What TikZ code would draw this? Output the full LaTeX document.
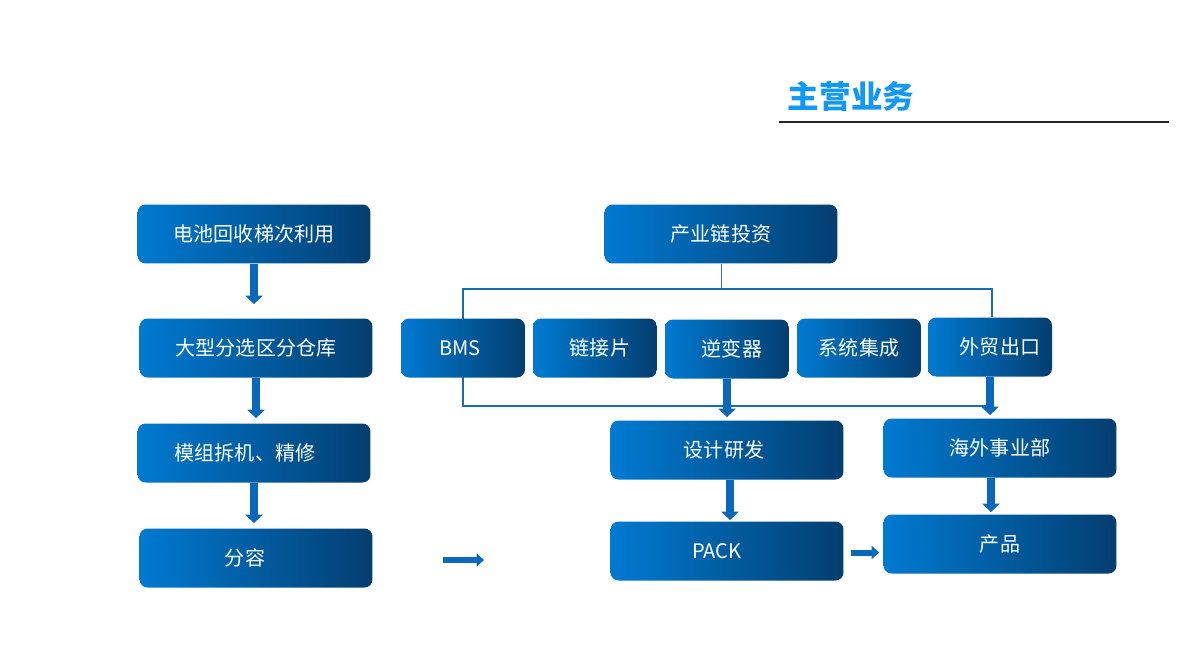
\documentclass[tikz,border=0pt]{standalone}
\usepackage{fontspec}
\setmainfont{Noto Sans CJK SC}
\usetikzlibrary{arrows.meta,backgrounds}
\definecolor{boxL}{RGB}{0,122,210}
\definecolor{boxR}{RGB}{3,62,112}
\definecolor{flowblue}{RGB}{10,104,188}
\definecolor{busblue}{RGB}{22,108,186}
\definecolor{titleblue}{RGB}{20,152,245}
% move a label sideways inside its box
\newcommand{\nudge}[2]{\hspace*{#1}#2\hspace*{-#1}}

\begin{document}
\begin{tikzpicture}[
    x=0.02cm, y=-0.02cm,
    font=\fontsize{11.4}{13}\selectfont,
    wide/.style={rounded corners=1.6mm, left color=boxL, right color=boxR,
                 text=white, minimum width=4.66cm, minimum height=1.18cm, inner sep=0pt},
    narrow/.style={wide, minimum width=2.48cm},
    flow/.style={-{Triangle[width=3.4mm,length=1.7mm]}, line width=1.6mm, draw=flowblue},
    flowsmall/.style={-{Triangle[width=2.6mm,length=1.5mm]}, line width=1.2mm, draw=flowblue},
    bus/.style={draw=busblue, line width=0.3mm},
    title/.style={font=\fontsize{18}{20}\selectfont\bfseries, text=titleblue},
]
\useasboundingbox (0,0) rectangle (1200,646);

% --- Heading ---
\node[title] (heading) at (851,96) {主营业务};
\coordinate (ruleL) at (779,122);
\coordinate (ruleR) at (1169,122);
\draw[line width=0.25mm, black!85] (ruleL) -- (ruleR);

% --- Recycling column (left) ---
\node[wide] (battery)   at (254,234) {电池回收梯次利用};
\node[wide] (sorting)   at (256,348) {大型分选区分仓库};
\node[wide] (dismantle) at (254,453) {\nudge{-0.18cm}{模组拆机、精修}};
\node[wide] (capacity)  at (256,558) {\nudge{-0.22cm}{分容}};

\draw[flow, shorten >=2.8mm] (battery.south) -- (battery.south |- sorting.north);
\draw[flow, shorten >=1mm]   (sorting.south) -- (sorting.south |- dismantle.north);
\draw[flow, shorten >=1mm]   (dismantle.south) -- (dismantle.south |- capacity.north);

% lone arrow between the two halves
\coordinate (gapL) at (443,560);
\coordinate (gapR) at (484,560);
\draw[flowsmall] (gapL) -- (gapR);

% --- Industry chain (right) ---
\node[wide]   (invest)   at (721,234) {产业链投资};
\node[narrow] (bms)      at (463,348) {\nudge{-0.06cm}{BMS}};
\node[narrow] (tab)      at (595,348) {\nudge{0.1cm}{链接片}};
\node[narrow] (inverter) at (727,349) {\nudge{0.1cm}{逆变器}};
\node[narrow] (sysint)   at (859,348) {系统集成};
\node[narrow] (export)   at (990,347) {\nudge{0.2cm}{外贸出口}};
\node[wide]   (design)   at (727,450) {\nudge{-0.06cm}{设计研发}};
\node[wide]   (overseas) at (1000,448) {海外事业部};
\node[wide]   (pack)     at (727,551) {\nudge{-0.2cm}{PACK}};
\node[wide]   (product)  at (1000,544) {产品};

% bus behind the row of small boxes
\coordinate (busTL) at (463,289);
\coordinate (busTR) at (992,289);
\coordinate (busBL) at (463,406);
\coordinate (busBR) at (991,406);
\begin{scope}[on background layer]
  \draw[draw=busblue!70!gray, line width=0.2mm] (invest.south) -- (invest.south |- busTL);
  \draw[bus] (busBR) -- (busBL) -- (busTL) -- (busTR) -- (busTR |- export.north);
\end{scope}

\draw[flow, shorten >=0.6mm] (inverter.south) -- (inverter.south |- design.north);
\draw[flow, shorten >=0.6mm] (export.south) -- (export.south |- overseas.north);
\draw[flow, shorten >=0.2mm] ([xshift=0.06cm]design.south) -- ([xshift=0.06cm]design.south |- pack.north);
\draw[flow, shorten >=0.4mm] ([xshift=-0.18cm]overseas.south) -- ([xshift=-0.18cm]overseas.south |- product.north);
\draw[flowsmall, shorten <=1.4mm, shorten >=0.8mm]
    ([yshift=-0.03cm]pack.east) -- ([yshift=-0.03cm]pack.east -| product.west);

\end{tikzpicture}
\end{document}
